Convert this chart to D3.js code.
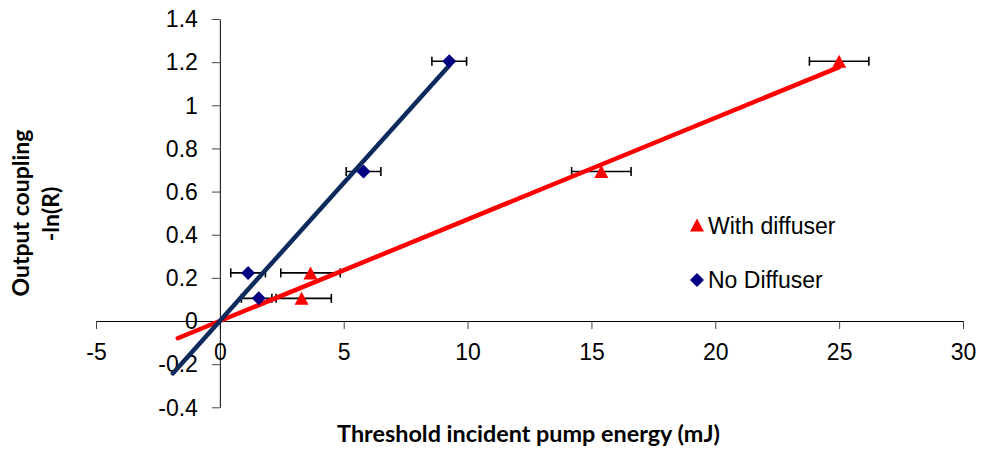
<!DOCTYPE html>
<html>
<head>
<meta charset="utf-8">
<script src="https://cdn.jsdelivr.net/npm/d3@7"></script>
<style>
  html, body { margin: 0; padding: 0; background: #fff; }
  svg { display: block; }
  .tick text { font-family: "Liberation Sans", Arial, sans-serif; font-size: 23px; fill: #000; }
  .legend text { font-family: "Liberation Sans", Arial, sans-serif; font-size: 23px; fill: #000; }
  .title { font-family: Lato, "Open Sans", sans-serif; font-weight: 700; fill: #000; }
</style>
</head>
<body>
<svg id="chart" width="982" height="454"></svg>
<script>
// Threshold pump energy (mJ) vs output coupling -ln(R)
const couplingValues = [0.105, 0.223, 0.693, 1.204];          // -ln(R) for R = 0.9, 0.8, 0.5, 0.3
const withDiffuserEnergy = [3.3, 3.66, 15.4, 25.0];
const withDiffuserError = [1.2, 1.2, 1.2, 1.2];
const noDiffuserEnergy = [1.57, 1.14, 5.8, 9.26];
const noDiffuserError = [0.7, 0.7, 0.7, 0.7];

// linear trend lines (through the origin), start and end points
const withDiffuserFit = [[-1.7, -0.08], [25.0, 1.177]];
const noDiffuserFit = [[-1.9, -0.243], [9.26, 1.185]];

const xTicks = [-5, 0, 5, 10, 15, 20, 25, 30];
const yTicks = [-0.4, -0.2, 0, 0.2, 0.4, 0.6, 0.8, 1, 1.2, 1.4];

const xLabel = "Threshold incident pump energy (mJ)";
const yLabelLines = ["Output coupling", "-ln(R)"];
const legendNames = ["With diffuser", "No Diffuser"];

const RED = "#ff0000";
const NAVY_MARK = "#000080";
const NAVY_LINE = "#0c2a5c";

const svg = d3.select("#chart");

const x = d3.scaleLinear().domain([-5, 30]).range([96, 963]);
const y = d3.scaleLinear().domain([-0.4, 1.4]).range([407.3, 19]);

// plain hyphen for negatives, as in spreadsheet labels
const plain = d => String(+(+d).toFixed(1));

// axes
const xAxis = svg.append("g")
  .attr("transform", `translate(0,${y(0)})`)
  .call(d3.axisBottom(x).tickValues(xTicks).tickFormat(plain)
    .tickSize(8).tickSizeOuter(0).tickPadding(15));
xAxis.select(".domain").attr("stroke", "#000").attr("stroke-width", 1);
xAxis.selectAll(".tick line").attr("stroke", "#444");

const yAxis = svg.append("g")
  .attr("transform", `translate(${x(0)},0)`)
  .call(d3.axisLeft(y).tickValues(yTicks).tickFormat(plain)
    .tickSize(8).tickSizeOuter(0).tickPadding(14));
yAxis.select(".domain").attr("stroke", "#000").attr("stroke-width", 1);
yAxis.selectAll(".tick line").attr("stroke", "#444");
yAxis.selectAll(".tick text").attr("dy", "0.34em");

// data
const withData = withDiffuserEnergy.map((e, i) => ({ x: e, y: couplingValues[i], err: withDiffuserError[i] }));
const noData = noDiffuserEnergy.map((e, i) => ({ x: e, y: couplingValues[i], err: noDiffuserError[i] }));

// horizontal error bars
function errorBars(data) {
  const g = svg.append("g").attr("stroke", "#000").attr("stroke-width", 1.6).attr("fill", "none");
  data.forEach(d => {
    const x0 = x(d.x - d.err), x1 = x(d.x + d.err), yy = y(d.y);
    g.append("line").attr("x1", x0).attr("x2", x1).attr("y1", yy).attr("y2", yy);
    g.append("line").attr("x1", x0).attr("x2", x0).attr("y1", yy - 4.5).attr("y2", yy + 4.5);
    g.append("line").attr("x1", x1).attr("x2", x1).attr("y1", yy - 4.5).attr("y2", yy + 4.5);
  });
}
errorBars(noData);
errorBars(withData);

// trend lines
const line = d3.line().x(d => x(d[0])).y(d => y(d[1]));
svg.append("path").datum(withDiffuserFit).attr("d", line)
  .attr("stroke", RED).attr("stroke-width", 4.5).attr("stroke-linecap", "round").attr("fill", "none");
svg.append("path").datum(noDiffuserFit).attr("d", line)
  .attr("stroke", NAVY_LINE).attr("stroke-width", 4.5).attr("stroke-linecap", "round").attr("fill", "none");

// marker shapes
const trianglePath = "M0,-7.5L7,5.5L-7,5.5Z";
const diamondPath = "M0,-7L7,0L0,7L-7,0Z";

svg.append("g").selectAll("path").data(noData).join("path")
  .attr("d", diamondPath).attr("fill", NAVY_MARK)
  .attr("transform", d => `translate(${x(d.x)},${y(d.y)})`);
svg.append("g").selectAll("path").data(withData).join("path")
  .attr("d", trianglePath).attr("fill", RED)
  .attr("transform", d => `translate(${x(d.x)},${y(d.y) + 1})`);

// legend
const legend = svg.append("g").attr("class", "legend");
legend.append("path").attr("d", trianglePath).attr("fill", RED).attr("transform", "translate(697,226)");
legend.append("text").attr("x", 708).attr("y", 234).text(legendNames[0]);
legend.append("path").attr("d", diamondPath).attr("fill", NAVY_MARK).attr("transform", "translate(697,280)");
legend.append("text").attr("x", 708).attr("y", 288).text(legendNames[1]);

// axis titles, sized to their span
function fitText(sel, width, start) {
  let fs = start;
  sel.style("font-size", fs + "px");
  const w = sel.node().getComputedTextLength();
  fs = fs * width / w;
  sel.style("font-size", fs.toFixed(2) + "px");
}
const xt = svg.append("text").attr("class", "title").attr("text-anchor", "middle")
  .attr("x", 528.5).attr("y", 442).text(xLabel);
fitText(xt, 383, 20);

const yt1 = svg.append("text").attr("class", "title").attr("text-anchor", "middle")
  .attr("transform", "translate(29,213) rotate(-90)").text(yLabelLines[0]);
fitText(yt1, 167, 20);
const yt2 = svg.append("text").attr("class", "title").attr("text-anchor", "middle")
  .attr("transform", "translate(59,214) rotate(-90)").text(yLabelLines[1]);
yt2.style("font-size", yt1.style("font-size"));
</script>
</body>
</html>
